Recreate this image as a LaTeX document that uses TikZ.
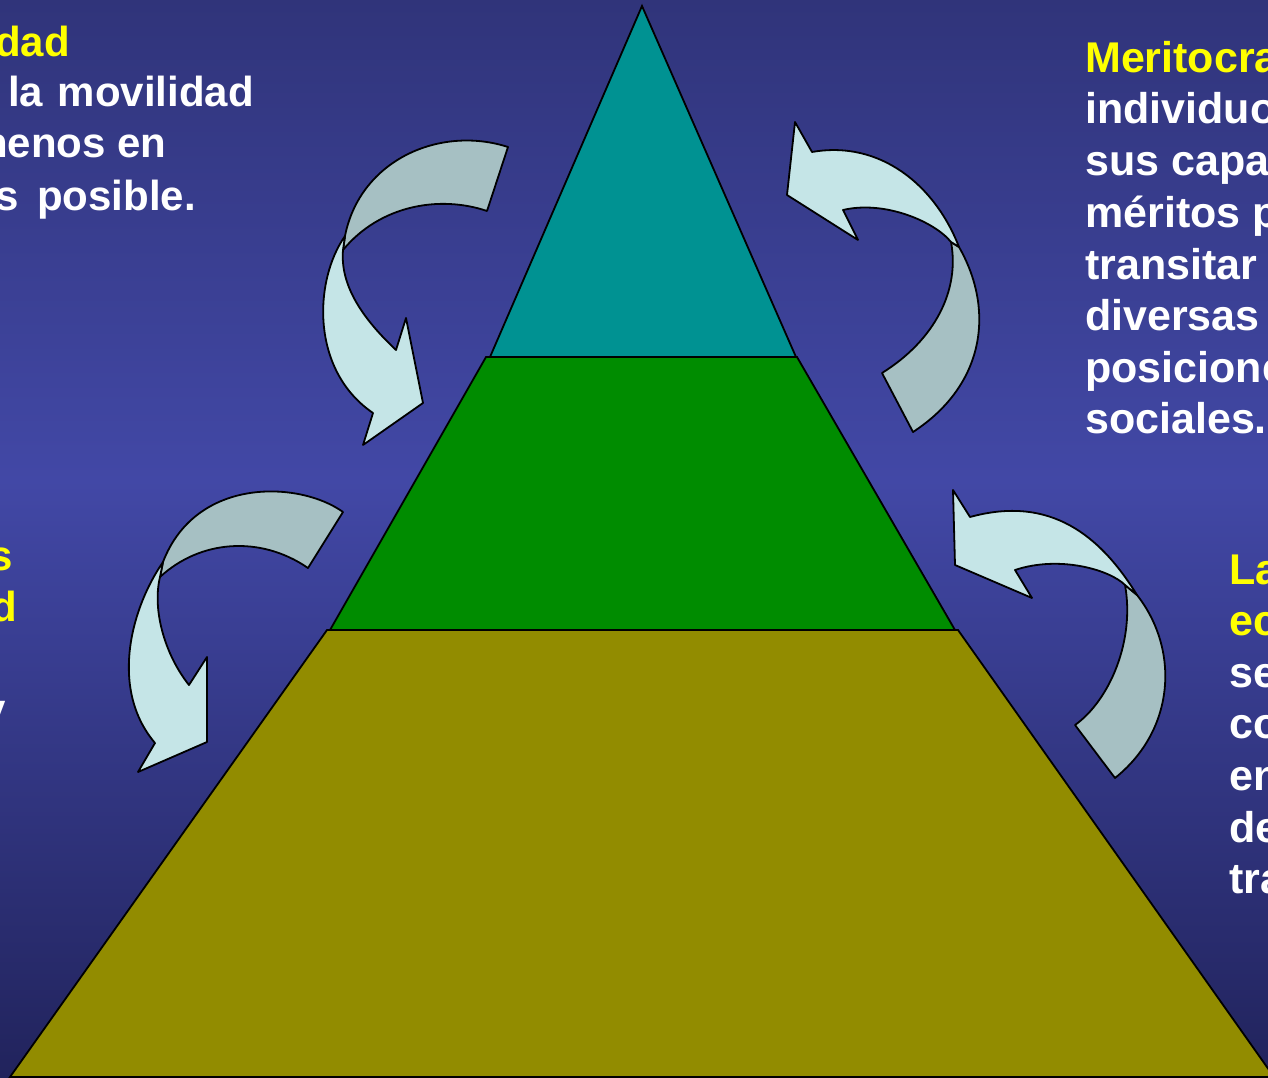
\documentclass[tikz,border=0pt]{standalone}
\usepackage{fontspec}
\setmainfont{Liberation Sans}
\definecolor{bgtop}{RGB}{48,52,122}
\definecolor{bgmid}{RGB}{66,72,166}
\definecolor{bgbot}{RGB}{33,35,92}
\definecolor{tealA}{RGB}{0,146,146}
\definecolor{greenA}{RGB}{0,140,0}
\definecolor{oliveA}{RGB}{146,140,0}
\definecolor{arrlight}{RGB}{197,229,231}
\definecolor{arrdark}{RGB}{166,192,195}
\definecolor{txtyellow}{RGB}{255,255,0}
\tikzset{
  layer/.style={draw=black, line width=1.8pt, line join=miter},
  arrfront/.style={fill=arrlight, draw=black, line width=1.8pt, line join=round},
  arrback/.style={fill=arrdark, draw=black, line width=1.8pt, line join=round},
  lbl/.style={inner sep=0pt, anchor=base west, font=\fontsize{42}{50}\selectfont\bfseries, text=white},
  hl/.style={lbl, text=txtyellow},
  lblR/.style={lbl, font=\fontsize{43}{50}\selectfont\bfseries},
  hlR/.style={lblR, text=txtyellow}
}
\begin{document}
\begin{tikzpicture}[x=1pt,y=-1pt]
\useasboundingbox (0,0) rectangle (1268,1078);
\clip (0,0) rectangle (1268,1078);
% background
\shade[top color=bgtop, bottom color=bgmid] (0,-1) rectangle (1268,481);
\shade[top color=bgmid, bottom color=bgbot] (0,480) rectangle (1268,1079);

% pyramid
\draw[layer, fill=oliveA] (327,630) -- (958,630) -- (1274,1077) -- (10,1077) -- cycle;
\draw[layer, fill=greenA] (486,357) -- (797,357) -- (955,630) -- (330,630) -- cycle;
\draw[layer, fill=tealA] (642,6) -- (796,357) -- (490,357) -- cycle;

% arrow 1 (top left)
\draw[arrback] (508,147) .. controls (440,125) and (360,160) .. (345,236)
  -- (343,250) .. controls (380,205) and (440,195) .. (487,211) -- cycle;
\draw[arrfront] (345,236) .. controls (314,280) and (310,370) .. (373,413)
  -- (363,445) -- (423,403) -- (406,318) -- (396,350)
  .. controls (362,318) and (340,285) .. (343,250) -- cycle;

% arrow 2 (top right)
\draw[arrback] (959,247) .. controls (995,310) and (985,385) .. (913,432)
  -- (882,373) .. controls (935,340) and (960,290) .. (951,242) -- cycle;
\draw[arrfront] (795,122) -- (812,152) .. controls (880,140) and (935,185) .. (959,247)
  -- (951,242) .. controls (935,222) and (885,200) .. (843,210)
  -- (858,240) -- (787,195) -- cycle;

% arrow 3 (left middle)
\draw[arrback] (343,512) .. controls (300,481) and (196,476) .. (163,562)
  -- (160,577) .. controls (200,540) and (260,535) .. (308,568) -- cycle;
\draw[arrfront] (163,562) .. controls (130,610) and (110,690) .. (155,743)
  -- (138,772) -- (207,742) -- (207,657) -- (189,685)
  .. controls (165,655) and (152,610) .. (160,577) -- cycle;

% arrow 4 (right middle)
\draw[arrback] (1137,595) .. controls (1180,650) and (1175,730) .. (1115,778)
  -- (1075,725) .. controls (1110,700) and (1135,640) .. (1125,585) -- cycle;
\draw[arrfront] (953,490) -- (970,517) .. controls (1050,495) and (1100,535) .. (1137,595)
  -- (1125,585) .. controls (1110,570) and (1060,555) .. (1015,570)
  -- (1032,598) -- (955,565) -- cycle;

% left top text
\node[hl]  (lt1) at (-5,57)  {dad};
\node[lbl] (lt2) at (8,107)  {la\hspace{3pt} movilidad};
\node[lbl] (lt3) at (-18,158) {nenos en};
\node[lbl] (lt4) at (-5,210) {s\hspace{7pt} posible.};

% left middle text
\node[hl]  (lm1) at (-11,570) {s};
\node[hl]  (lm2) at (-9,621)  {d};
\node[lbl] (lm3) at (-18,723) {y};

% right top text
\node[hlR]  (rt1) at (1085,73)  {Meritocra};
\node[lblR] (rt2) at (1085,124) {individuo};
\node[lblR] (rt3) at (1085,176) {sus capa};
\node[lblR] (rt4) at (1085,227) {méritos p};
\node[lblR] (rt5) at (1085,279) {transitar};
\node[lblR] (rt6) at (1085,330) {diversas};
\node[lblR] (rt7) at (1085,382) {posicione};
\node[lblR] (rt8) at (1085,433) {sociales.};

% right bottom text
\node[hlR]  (rb1) at (1229,584) {La};
\node[hlR]  (rb2) at (1229,635) {ec};
\node[lblR] (rb3) at (1229,687) {se};
\node[lblR] (rb4) at (1229,738) {co};
\node[lblR] (rb5) at (1229,790) {en};
\node[lblR] (rb6) at (1229,842) {de};
\node[lblR] (rb7) at (1229,893) {tra};
\end{tikzpicture}
\end{document}
